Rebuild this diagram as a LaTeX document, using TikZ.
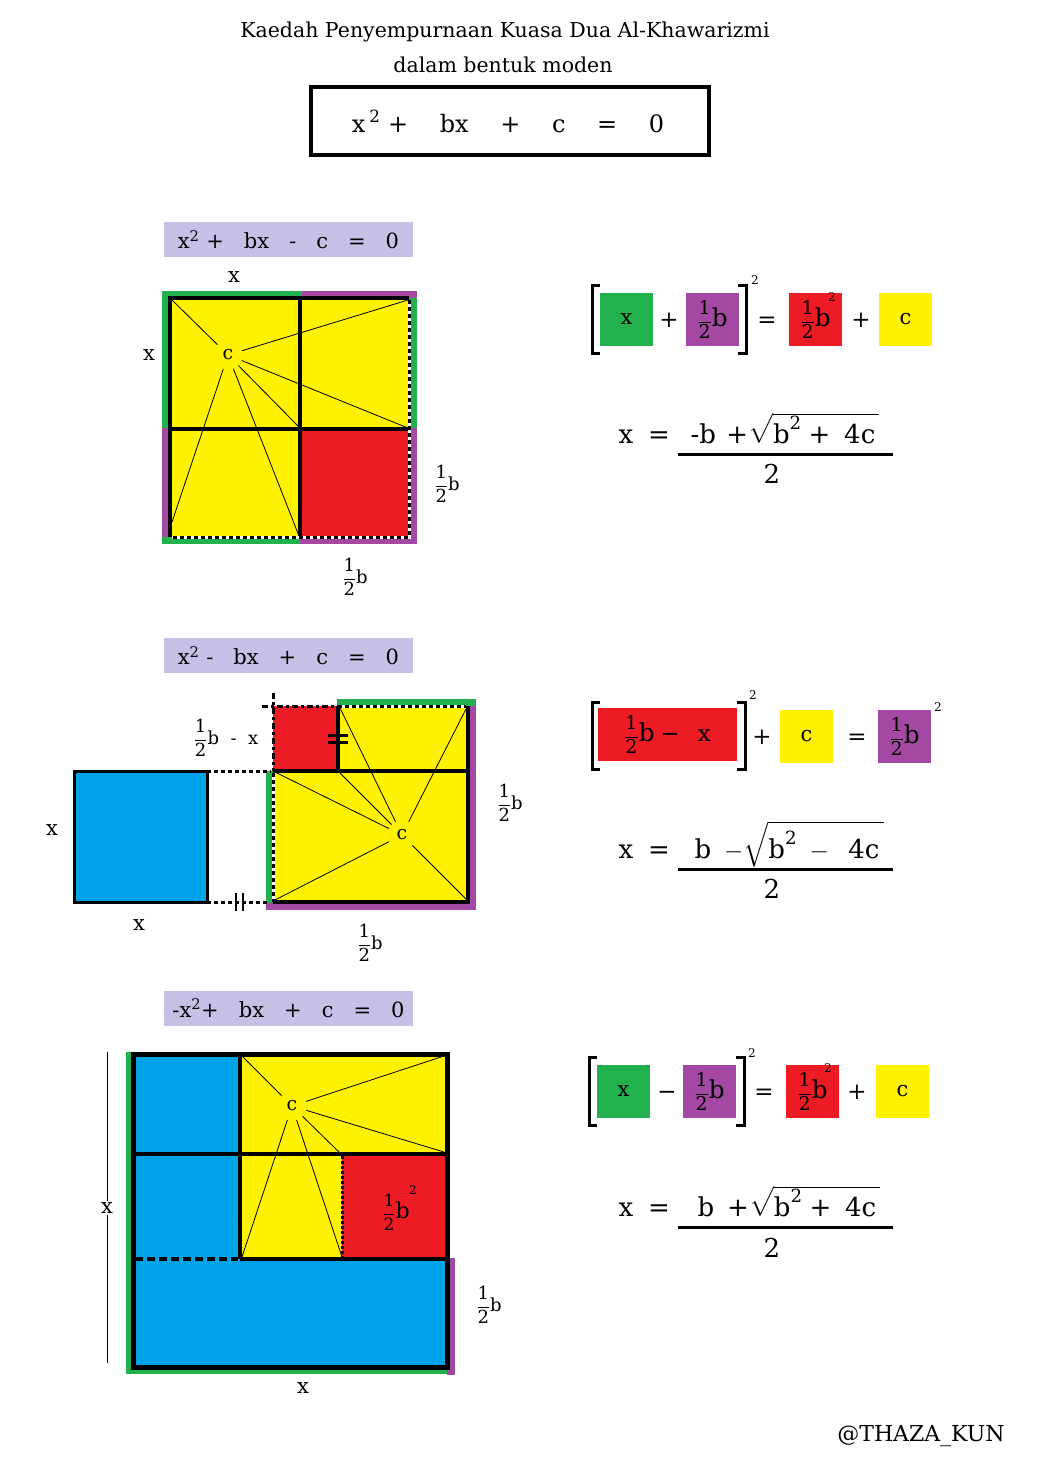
\documentclass[tikz,border=0pt]{standalone}
\usepackage{amsmath}
\usepackage{fontspec}
\setmainfont{DejaVu Serif}
\usetikzlibrary{positioning}
\definecolor{paintgreen}{RGB}{34,177,76}
\definecolor{paintpurple}{RGB}{163,73,164}
\definecolor{paintred}{RGB}{237,28,36}
\definecolor{paintyellow}{RGB}{255,242,0}
\definecolor{paintblue}{RGB}{0,162,232}
\definecolor{lavender}{RGB}{200,191,231}
\newcommand{\hf}{$\dfrac{\text{1}}{\text{2}}$}
\newcommand{\hfb}{\hf\scalebox{1.3}{b}}

\begin{document}
\begin{tikzpicture}[x=1pt, y=-1pt,
    headfont/.style={font=\fontsize{20.5}{24}\selectfont, inner sep=0pt},
    eqlabel/.style={fill=lavender, minimum width=249pt, minimum height=35pt, inner sep=0pt, font=\fontsize{21}{24}\selectfont},
    dimlbl/.style={font=\fontsize{21}{24}\selectfont, inner sep=1pt},
    halflbl/.style={font=\fontsize{18}{21}\selectfont, inner sep=1pt},
    cnode/.style={circle, inner sep=5pt, font=\fontsize{19}{21}\selectfont},
    ray/.style={line width=0.8pt},
    thickln/.style={line width=4pt},
    bwdash/.style={draw=white, line width=3pt, postaction={draw=black, dash pattern=on 4pt off 3pt}},
    dashdot/.style={line width=3pt, dash pattern=on 6pt off 3pt on 3pt off 3pt},
    tile/.style={minimum width=53pt, minimum height=53pt, inner sep=0pt, font=\fontsize{21}{24}\selectfont},
    halftile/.style={tile, font=\fontsize{19}{22}\selectfont},
    op/.style={font=\fontsize{23}{25}\selectfont, inner sep=0pt, anchor=base},
    sq/.style={font=\fontsize{12}{14}\selectfont, inner sep=0pt},
    eqn/.style={font=\fontsize{26}{29}\selectfont, inner sep=0pt, anchor=base},
    bracket/.style={line width=3pt}
  ]
    \useasboundingbox (0,0) rectangle (1041,1468);

    % Tajuk
    \node[headfont] (judul) at (505,32) {Kaedah Penyempurnaan Kuasa Dua Al-Khawarizmi};
    \node[headfont] (judul2) at (503,65) {dalam bentuk moden};
    \node[draw, line width=4pt, minimum width=398pt, minimum height=68pt, inner sep=0pt] (utama) at (509.5,120.5) {};
    \node[font=\fontsize{24}{26}\selectfont, anchor=base, inner sep=0pt] (utamateks) at (508,132) {x\,$^{\text{2}}$ + \quad bx \quad + \quad c \quad = \quad 0};

    % Rajah 1
    \node[eqlabel] (lbl1) at (288.5,239.5) {x$^{\text{2}}$ + \ \ bx \ \ - \ \ c \ \ = \ \ 0};
    \fill[paintgreen] (162,291) rectangle (302,298);
    \fill[paintpurple] (302,291) rectangle (417,298);
    \fill[paintgreen] (162,291) rectangle (170,428);
    \fill[paintpurple] (162,428) rectangle (170,544);
    \fill[paintgreen] (409,298) rectangle (417,428);
    \fill[paintpurple] (409,428) rectangle (417,544);
    \fill[paintgreen] (162,537) rectangle (300,544);
    \fill[paintpurple] (300,537) rectangle (417,544);
    \fill[paintyellow] (170,298) rectangle (409,537);
    \fill[paintred] (300,429) rectangle (409,537);
    \node[cnode] (c1) at (228,355) {c};
    \coordinate (a1) at (172,300);
    \coordinate (a2) at (408,300);
    \coordinate (a3) at (408,428);
    \coordinate (a4) at (300,428);
    \coordinate (a5) at (299,536);
    \coordinate (a6) at (172,522);
    \foreach \p in {a1,a2,a3,a4,a5,a6}
        \draw[ray] (c1) -- (\p);
    \draw[thickln] (409,298) -- (170,298) -- (170,537);
    \draw[thickln] (300,298) -- (300,537);
    \draw[thickln] (170,429) -- (409,429);
    \draw[bwdash] (409,300) -- (409,537) -- (172,537);
    \node[dimlbl] (x1a) at (234,277) {x};
    \node[dimlbl] (x1b) at (149,355) {x};
    \node[halflbl] (h1a) at (447,484) {\hf b};
    \node[halflbl] (h1b) at (355,577) {\hf b};

    % Persamaan 1
    \draw[bracket] (600,285) -| (592,353) -- (600,353);
    \node[tile, fill=paintgreen] (g1) at (626.5,319.5) {x};
    \node[op] (p1) at (669,327) {+};
    \node[halftile, fill=paintpurple] (u1) at (712.5,319.5) {\hfb};
    \draw[bracket] (738,285) -| (746,353) -- (738,353);
    \node[sq] (s1) at (755,280) {2};
    \node[op] (e1) at (767,327) {=};
    \node[halftile, fill=paintred] (r1) at (815.5,319.5) {\hfb};
    \node[sq] (s1b) at (832,297) {2};
    \node[op] (p1b) at (861,327) {+};
    \node[tile, fill=paintyellow] (y1) at (905.5,319.5) {c};
    \node[eqn] (sx1) at (626,443) {x};
    \node[eqn] (se1) at (659,443) {=};
    \node[eqn] (num1) at (785,443) {-b\hspace{0.4em}+$\sqrt{\text{b}^{\text{2}}\;\text{+}\;\;\text{4c}\,}$};
    \draw[line width=3pt] (678,454) -- (893,454);
    \node[eqn] (den1) at (772,483) {2};

    % Rajah 2
    \node[eqlabel] (lbl2) at (288.5,655.5) {x$^{\text{2}}$ - \ \ bx \ \ + \ \ c \ \ = \ \ 0};
    \fill[paintgreen] (337,699) rectangle (476,706);
    \fill[paintpurple] (468,706) rectangle (476,910);
    \fill[paintpurple] (266,902) rectangle (476,910);
    \fill[paintgreen] (266,771) rectangle (273,903);
    \draw[line width=3pt, fill=paintblue] (74,771) rectangle (207,902);
    \fill[paintred] (273,706) rectangle (338,771);
    \fill[paintyellow] (338,706) rectangle (468,771);
    \fill[paintyellow] (273,771) rectangle (468,902);
    \node[cnode] (c2) at (402,835) {c};
    \coordinate (b1) at (340,708);
    \coordinate (b2) at (467,707);
    \coordinate (b3) at (339,772);
    \coordinate (b4) at (275,772);
    \coordinate (b5) at (275,900);
    \coordinate (b6) at (467,900);
    \foreach \p in {b1,b2,b3,b4,b5,b6}
        \draw[ray] (c2) -- (\p);
    \draw[thickln] (468,706) -- (468,902) -- (273,902);
    \draw[thickln] (273,771) -- (468,771);
    \draw[thickln] (338,706) -- (338,771);
    \draw[bwdash] (273,773) -- (273,902);
    \draw[bwdash] (338,706) -- (466,706);
    \draw[dashdot] (262,706) -- (338,706);
    \draw[dashdot] (273,693) -- (273,771);
    \draw[line width=3pt] (328,735) -- (348,735);
    \draw[line width=3pt] (328,742) -- (348,742);
    \draw[line width=3pt, dash pattern=on 4pt off 3pt] (207,771) -- (271,771);
    \draw[line width=3pt, dash pattern=on 4pt off 3pt] (207,902) -- (267,902);
    \draw[line width=2.5pt] (236,893) -- (236,911);
    \draw[line width=2.5pt] (243,893) -- (243,911);
    \node[halflbl] (h2a) at (226,738) {\hf b \ - \ x};
    \node[dimlbl] (x2a) at (52,830) {x};
    \node[dimlbl] (x2b) at (139,925) {x};
    \node[halflbl] (h2b) at (510,803) {\hf b};
    \node[halflbl] (h2c) at (370,943) {\hf b};

    % Persamaan 2
    \draw[bracket] (600,702) -| (592,769) -- (600,769);
    \node[halftile, fill=paintred, minimum width=139pt] (r2) at (667.5,734.5) {\hfb \ \scalebox{1.2}{−} \ \ \scalebox{1.2}{x}};
    \draw[bracket] (737,702) -| (745,769) -- (737,769);
    \node[sq] (s2) at (753,695) {2};
    \node[op] (p2) at (762,744) {+};
    \node[tile, fill=paintyellow] (y2) at (806.5,736.5) {c};
    \node[op] (e2) at (857,744) {=};
    \node[halftile, fill=paintpurple] (u2) at (904.5,736.5) {\hfb};
    \node[sq] (s2b) at (938,707) {2};
    \node[eqn] (sx2) at (626,858) {x};
    \node[eqn] (se2) at (659,858) {=};
    \node[eqn] (num2) at (789,858) {b\hspace{0.5em}$-\sqrt{\text{b}^{\text{2}}\;-\;\;\text{4c}\,}$};
    \draw[line width=3pt] (678,869) -- (893,869);
    \node[eqn] (den2) at (772,898) {2};

    % Rajah 3
    \node[eqlabel] (lbl3) at (288.5,1008) {-x$^{\text{2}}$+ \ \ bx \ \ + \ \ c \ \ = \ \ 0};
    \fill[paintgreen] (126,1052) rectangle (133,1374);
    \fill[paintgreen] (126,1367) rectangle (449,1374);
    \fill[paintpurple] (447,1258) rectangle (455,1375);
    \fill[paintblue] (133,1054) rectangle (240,1259);
    \fill[paintyellow] (240,1054) rectangle (447,1259);
    \fill[paintred] (342,1154) rectangle (447,1259);
    \fill[paintblue] (133,1259) rectangle (447,1367);
    \node[cnode] (c3) at (292,1106) {c};
    \coordinate (d1) at (242,1056);
    \coordinate (d2) at (444,1056);
    \coordinate (d3) at (444,1152);
    \coordinate (d4) at (339,1152);
    \coordinate (d5) at (242,1257);
    \coordinate (d6) at (342,1257);
    \foreach \p in {d1,d2,d3,d4,d5,d6}
        \draw[ray] (c3) -- (\p);
    \draw[thickln] (240,1054) -- (240,1259);
    \draw[thickln] (133,1154) -- (447,1154);
    \draw[thickln] (240,1259) -- (447,1259);
    \draw[thickln, dash pattern=on 8pt off 4pt] (135,1259) -- (238,1259);
    \draw[line width=3pt, dash pattern=on 3pt off 2pt] (342,1156) -- (342,1257);
    \draw[line width=5pt] (133,1054) rectangle (447,1367);
    \node[halflbl, font=\fontsize{17}{20}\selectfont] (h3a) at (396,1212) {\hfb};
    \node[sq] (s3) at (413,1190) {2};
    \node[dimlbl] (x3a) at (107,1208) {x};
    \draw[line width=1pt] (107,1052) -- (x3a);
    \draw[line width=1pt] (x3a) -- (107,1363);
    \node[dimlbl] (x3b) at (303,1388) {x};
    \node[halflbl] (h3b) at (489,1305) {\hf b};

    % Persamaan 3
    \draw[bracket] (597,1057) -| (589,1125) -- (597,1125);
    \node[tile, fill=paintgreen] (g3) at (623.5,1091.5) {x};
    \node[op] (m3) at (667,1099) {−};
    \node[halftile, fill=paintpurple] (u3) at (709.5,1091.5) {\hfb};
    \draw[bracket] (736,1057) -| (744,1125) -- (736,1125);
    \node[sq] (s3a) at (752,1053) {2};
    \node[op] (e3) at (764,1099) {=};
    \node[halftile, fill=paintred] (r3) at (812.5,1091.5) {\hfb};
    \node[sq] (s3b) at (828,1068) {2};
    \node[op] (p3) at (857,1099) {+};
    \node[tile, fill=paintyellow] (y3) at (902.5,1091.5) {c};
    \node[eqn] (sx3) at (626,1216) {x};
    \node[eqn] (se3) at (659,1216) {=};
    \node[eqn] (num3) at (789,1216) {b\hspace{0.5em}+$\sqrt{\text{b}^{\text{2}}\;\text{+}\;\;\text{4c}\,}$};
    \draw[line width=3pt] (678,1227) -- (893,1227);
    \node[eqn] (den3) at (772,1257) {2};

    % Tanda
    \node[font=\fontsize{22}{25}\selectfont] (tanda) at (921,1436) {@THAZA\_KUN};
\end{tikzpicture}
\end{document}
